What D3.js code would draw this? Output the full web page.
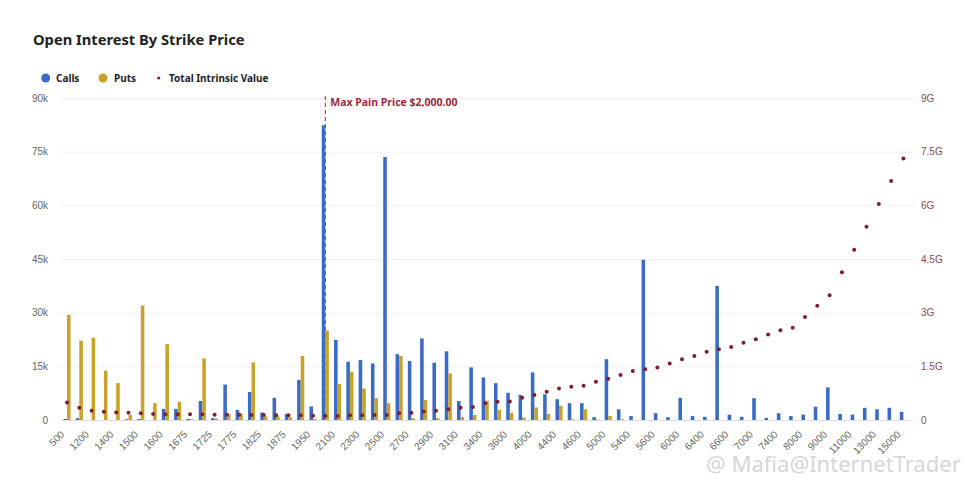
<!DOCTYPE html>
<html>
<head>
<meta charset="utf-8">
<script src="https://cdn.jsdelivr.net/npm/d3@7"></script>
<style>
  body { margin: 0; background: #fff; font-family: "Noto Sans", "Open Sans", sans-serif; }
  .tick text { fill: #666; font-size: 10px; }
  .legtext { font-size: 10px; font-weight: 700; fill: #222; }
</style>
</head>
<body>
<div id="chart"></div>
<script>
// Strike prices (categories)
const strikes = [500,1000,1200,1300,1400,1450,1500,1550,1600,1650,1675,1700,1725,1750,1775,
  1800,1825,1850,1875,1900,1950,2000,2100,2200,2300,2400,2500,2600,2700,2800,2900,3000,3100,
  3200,3400,3500,3600,3800,4000,4200,4400,4500,4600,4800,5000,5200,5400,5500,5600,5800,6000,
  6200,6400,6500,6600,6800,7000,7200,7400,7600,8000,8500,9000,10000,11000,12000,13000,14000,15000];

// Open interest, thousands
const calls = [0.3,0.5,0,0,0,0.2,0.3,0,3.1,3.1,0.3,5.3,0.5,9.9,2.8,7.8,2.1,6.2,1.7,11.2,3.8,
  82.4,22.4,16.3,16.8,15.8,73.5,18.4,16.5,22.8,16,19.2,5.3,14.7,11.9,10.3,7.6,7,13.3,7.2,5.8,
  4.7,4.7,0.8,17,3,1.1,44.8,1.9,0.8,6.2,1.1,0.9,37.5,1.5,0.9,6.1,0.6,1.9,1.1,1.5,3.7,9.1,
  1.7,1.5,3.4,3,3.4,2.3];
const puts = [29.4,22.2,23,13.8,10.3,1.4,32,4.7,21.2,5.1,0.2,17.2,0.4,1.7,1.7,16.1,1,1,0.8,17.9,0.3,
  25,10.1,13.5,8.8,6.1,4.7,17.9,0.5,5.6,0.5,13,0.8,1.4,5.4,2.8,2,0.7,3.5,1.7,4,
  0.2,3,0.1,1.1,0.2,0,0,0,0,0,0,0,0,0,0,0,0,0,0,0,0,0,
  0,0,0,0,0,0];
// Total intrinsic value, billions
const intrinsic = [0.49,0.34,0.26,0.23,0.21,0.2,0.19,0.17,0.16,0.16,0.16,0.16,0.15,0.15,0.15,
  0.14,0.14,0.13,0.13,0.13,0.12,0.11,0.11,0.13,0.13,0.14,0.14,0.19,0.2,0.24,0.26,0.3,0.34,
  0.36,0.47,0.51,0.52,0.62,0.7,0.79,0.88,0.93,0.96,1.07,1.15,1.26,1.37,1.42,1.47,1.58,1.7,
  1.79,1.91,1.98,2.04,2.16,2.26,2.39,2.51,2.58,2.88,3.19,3.49,4.13,4.76,5.4,6.04,6.68,7.31];

const leftTicks = [0,15,30,45,60,75,90];
const rightTicks = [0,1.5,3,4.5,6,7.5,9];
const maxPain = 2000;

const W = 975, H = 488;
const colCalls = "#3a6cc6", colPuts = "#c9a22a", colDot = "#7e1e2e", colPain = "#9b2a3c";

const svg = d3.select("#chart").append("svg")
    .attr("width", W).attr("height", H);

// Scales
let x = d3.scaleBand()
    .domain(strikes)
    .range([60.85, 909.55])
    .paddingInner(0.42)
    .paddingOuter(0.21);
let xs = d3.scaleBand()
    .domain(["calls","puts"])
    .range([0, x.bandwidth()]);
let y = d3.scaleLinear().domain([0, 90]).range([420, 98]);
let y2 = d3.scaleLinear().domain([0, 9]).range([420, 98]);

// Title
svg.append("text")
    .attr("x", 33).attr("y", 45)
    .style("font-size", "14.7px").style("font-weight", 700).style("fill", "#222")
    .text("Open Interest By Strike Price");

// Legend
const leg = svg.append("g").attr("transform", "translate(0,78)");
leg.append("circle").attr("cx", 45.7).attr("cy", 0).attr("r", 4.5).attr("fill", colCalls);
leg.append("text").attr("class", "legtext").attr("x", 56).attr("y", 3.5).text("Calls");
leg.append("circle").attr("cx", 103).attr("cy", 0).attr("r", 4.5).attr("fill", colPuts);
leg.append("text").attr("class", "legtext").attr("x", 114).attr("y", 3.5).text("Puts");
leg.append("circle").attr("cx", 158.7).attr("cy", 0).attr("r", 1.6).attr("fill", colDot);
leg.append("text").attr("class", "legtext").attr("x", 169).attr("y", 3.5).text("Total Intrinsic Value");

// Left axis with gridlines
const yAxisEl = svg.append("g")
    .attr("transform", "translate(60,0)")
    .call(d3.axisLeft(y).tickValues(leftTicks).tickSize(-855).tickPadding(12)
        .tickFormat(d => d === 0 ? "0" : d + "k"));
yAxisEl.select(".domain").remove();
yAxisEl.selectAll(".tick line").attr("stroke", "#f0f0f0");

// Right axis
const y2AxisEl = svg.append("g")
    .attr("transform", "translate(915,0)")
    .call(d3.axisRight(y2).tickValues(rightTicks).tickSize(0).tickPadding(6)
        .tickFormat(d => d === 0 ? "0" : d + "G"));
y2AxisEl.select(".domain").remove();
y2AxisEl.selectAll(".tick text").style("fill", "#8a4a55");

// X axis, every other strike labelled
const xAxisEl = svg.append("g")
    .attr("transform", "translate(0,420)")
    .call(d3.axisBottom(x).tickSize(0)
        .tickValues(strikes.filter((d, i) => i % 2 === 0)));
xAxisEl.select(".domain").attr("stroke", "#ddd");
xAxisEl.selectAll(".tick text")
    .attr("text-anchor", "end")
    .attr("y", 0).attr("dy", 0)
    .attr("transform", "translate(-2,15) rotate(-45)");

// Max pain marker
const painX = x(maxPain) + x.bandwidth() / 2;
svg.append("line")
    .attr("x1", painX).attr("x2", painX)
    .attr("y1", 96).attr("y2", 420)
    .attr("stroke", colPain).attr("stroke-width", 1)
    .attr("stroke-dasharray", "4,3");
svg.append("text")
    .attr("x", painX + 5).attr("y", 106)
    .style("font-size", "10.5px").style("font-weight", 700).style("fill", colPain)
    .text("Max Pain Price $2,000.00");

// Bars
const rows = strikes.map((s, i) => ({ strike: s, calls: calls[i], puts: puts[i], iv: intrinsic[i] }));

svg.append("g").selectAll("rect.call")
    .data(rows)
    .join("rect")
    .attr("class", "call")
    .attr("x", d => x(d.strike) + xs("calls"))
    .attr("width", xs.bandwidth())
    .attr("y", d => y(d.calls))
    .attr("height", d => y(0) - y(d.calls))
    .attr("fill", colCalls);

svg.append("g").selectAll("rect.put")
    .data(rows)
    .join("rect")
    .attr("class", "put")
    .attr("x", d => x(d.strike) + xs("puts"))
    .attr("width", xs.bandwidth())
    .attr("y", d => y(d.puts))
    .attr("height", d => y(0) - y(d.puts))
    .attr("fill", colPuts);

// Intrinsic value dots
svg.append("g").selectAll("circle")
    .data(rows)
    .join("circle")
    .attr("cx", d => x(d.strike) + x.bandwidth() / 2)
    .attr("cy", d => y2(d.iv))
    .attr("r", 2)
    .attr("fill", colDot);

// Watermark
svg.append("text")
    .attr("x", 706).attr("y", 472)
    .style("font-size", "22px").style("fill", "#d6d6d6")
    .text("@ Mafia@InternetTrader");
</script>
</body>
</html>
